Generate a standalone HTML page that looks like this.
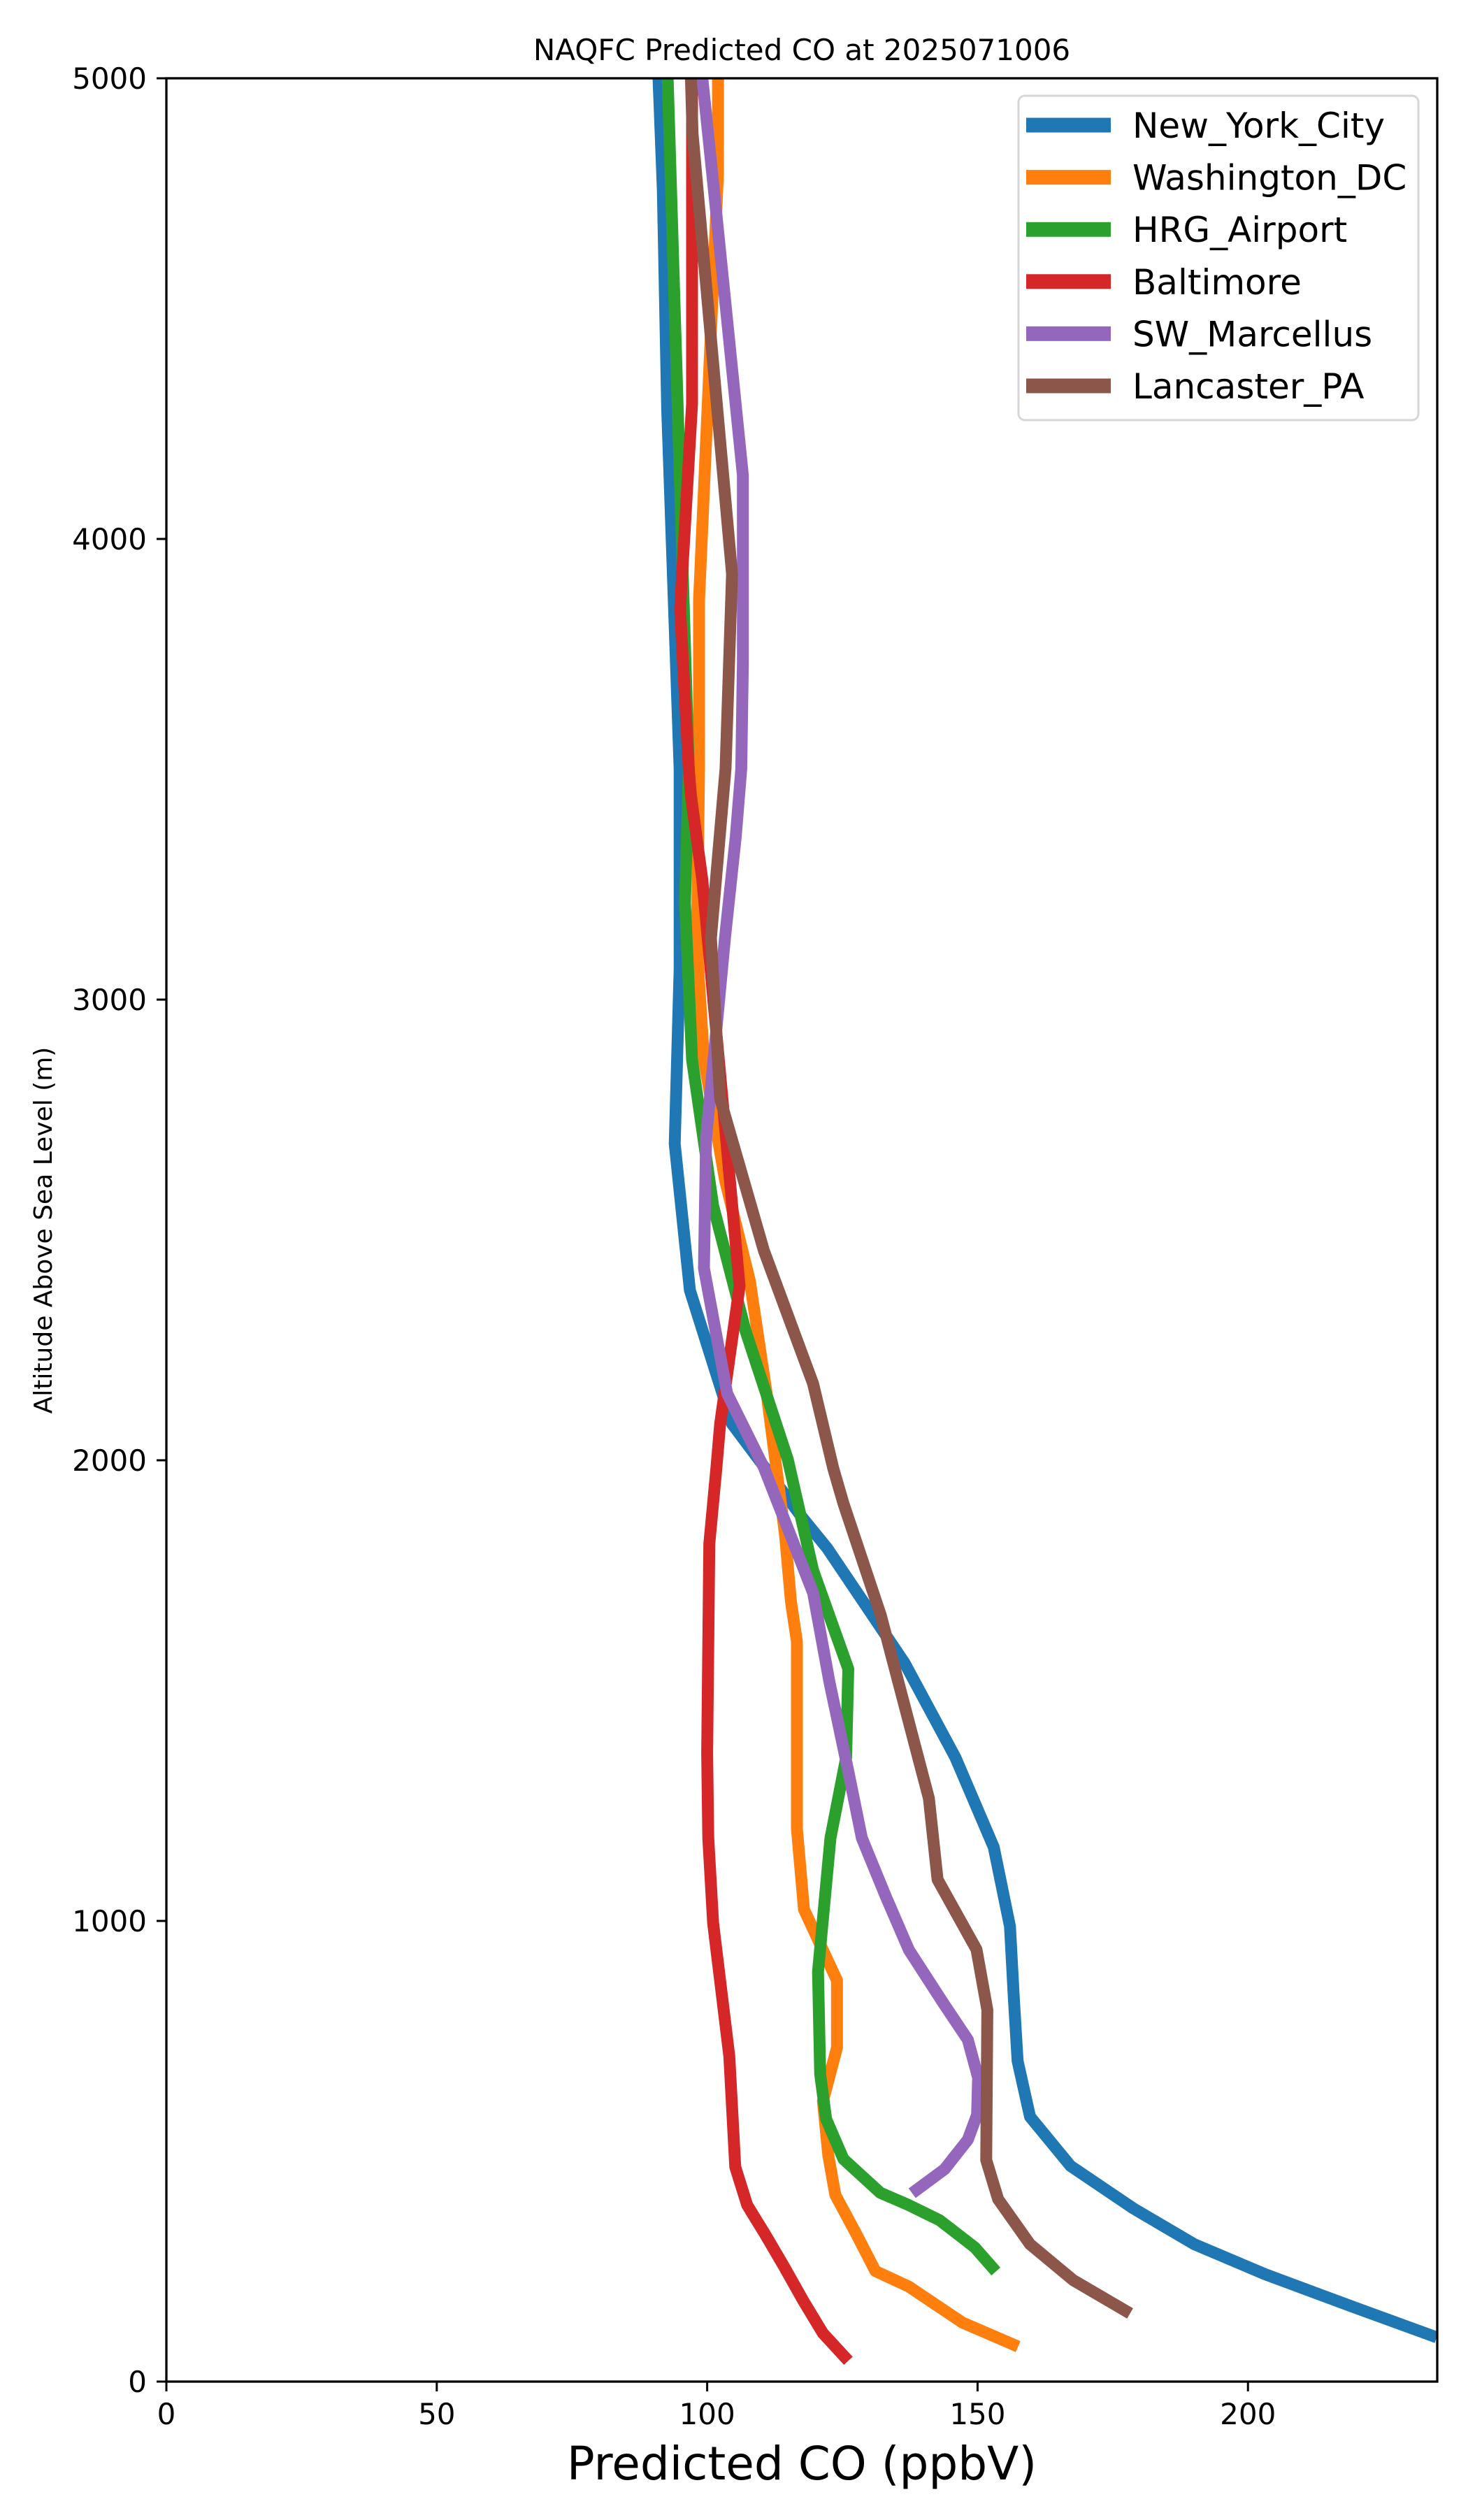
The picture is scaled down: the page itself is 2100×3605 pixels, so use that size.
<!DOCTYPE html>
<html><head><meta charset="utf-8"><style>
html,body{margin:0;padding:0;background:#fff;}
svg text{font-family:"DejaVu Sans","Liberation Sans",sans-serif;fill:#000;}
</style></head><body>
<svg id="chart" width="2100" height="3600" viewBox="0 0 2100 3600" xmlns="http://www.w3.org/2000/svg">
<defs><clipPath id="plotclip"><rect x="238" y="112" width="1818" height="3295"/></clipPath></defs>
<rect width="2100" height="3600" fill="#fff"/>
<text x="1147" y="86" font-size="42" text-anchor="middle">NAQFC Predicted CO at 2025071006</text>
<g id="xticks"></g>
<g id="yticks"></g>
<g id="series" clip-path="url(#plotclip)"></g>
<rect x="238" y="112" width="1818" height="3295" fill="none" stroke="#000" stroke-width="3.3"/>
<text x="1147" y="3547" font-size="66" text-anchor="middle">Predicted CO (ppbV)</text>
<text x="0" y="0" font-size="36" text-anchor="middle" transform="translate(74,1760) rotate(-90)">Altitude Above Sea Level (m)</text>
<g id="legend"></g>
</svg>
<script>
const seriesNames = ["New_York_City","Washington_DC","HRG_Airport","Baltimore","SW_Marcellus","Lancaster_PA"];
const seriesColors = ["#1f77b4","#ff7f0e","#2ca02c","#d62728","#9467bd","#8c564b"];
const xTicks = [0,50,100,150,200];
const yTicks = [0,1000,2000,3000,4000,5000];
const nycCO = [234.9,219.7,203.2,190.1,178.8,167.2,159.7,157.4,156.7,156.0,153.0,145.9,136.5,122.2,117.5,104.6,96.8,94.0,94.9,94.9,92.6,91.8,91.0];
const nycAlt = [96,161,233,298,376,468,575,696,833,988,1160,1355,1560,1809,1877,2079,2369,2687,3065,3501,4282,4757,5000];
const dcCO = [157.5,147.2,137.3,131.1,127.6,123.7,122.4,121.4,124.0,124.0,117.9,116.6,116.6,115.5,114.4,111.0,107.9,103.3,99.4,98.1,98.5,98.5,102.0,102.0];
const dcAlt = [76,128,206,240,320,405,491,609,725,871,1025,1200,1606,1693,1838,2145,2389,2609,2870,3114,3501,3867,4795,5000];
const hrgCO = [153.4,149.5,143.0,137.3,132.0,125.2,122.0,120.9,120.5,122.8,125.7,126.1,119.6,114.9,107.1,101.1,97.2,95.9,96.6,94.9,92.7];
const hrgAlt = [239,291,350,383,410,483,570,667,890,1180,1354,1547,1761,2002,2281,2553,2870,3210,3501,4147,5000];
const balCO = [126.1,121.4,117.8,114.2,110.7,107.4,105.2,104.1,101.1,100.2,100.0,100.4,101.7,102.4,106.0,99.1,97.0,96.6,95.0,97.2,97.2];
const balAlt = [45,105,175,250,320,383,466,706,996,1180,1364,1819,1983,2079,2378,3260,3443,3501,3847,4293,5000];
const swmCO = [137.9,143.9,148.2,149.9,150.1,148.2,143.7,137.3,133.0,128.6,126.1,122.6,119.6,110.5,103.7,99.4,99.8,103.3,105.3,106.3,106.6,106.6,101.5,99.1];
const swmAlt = [409,461,525,579,660,742,821,937,1054,1180,1325,1519,1712,1984,2145,2417,2699,3134,3355,3501,3731,4138,4729,5000];
const lanCO = [178.2,167.7,159.7,153.8,151.6,151.8,149.8,142.6,141.0,132.1,125.2,123.3,119.6,110.5,102.4,100.7,103.4,104.6,97.3,97.0];
const lanAlt = [148,220,298,396,481,807,938,1090,1266,1664,1906,1983,2166,2455,2785,3134,3501,3924,4880,5000];

const NS="http://www.w3.org/2000/svg";
const L=238,R=2056,T=112,B=3407,XMAX=235,YMAX=5000;
function xs(v){return L+(v/XMAX)*(R-L);}
function ys(v){return B-(v/YMAX)*(B-T);}
function mk(tag,attrs,parent){const e=document.createElementNS(NS,tag);for(const k in attrs)e.setAttribute(k,attrs[k]);parent.appendChild(e);return e;}

const xg=document.getElementById('xticks');
xTicks.forEach(t=>{
  const ln=mk('line',{x1:xs(t),x2:xs(t),y1:B,y2:B+14,stroke:'#000','stroke-width':3},xg);
  
  
  const tx=mk('text',{x:xs(t),y:B+61,'font-size':42,'text-anchor':'middle'},xg);
  tx.textContent=t;
  
  
});
const yg=document.getElementById('yticks');
yTicks.forEach(t=>{
  const ln=mk('line',{x1:L-14,x2:L,y1:ys(t),y2:ys(t),stroke:'#000','stroke-width':3},yg);
  
  
  const tx=mk('text',{x:L-28,y:ys(t)+15,'font-size':42,'text-anchor':'end'},yg);
  tx.textContent=t;
  
  
});

const seriesX=[nycCO,dcCO,hrgCO,balCO,swmCO,lanCO];
const seriesY=[nycAlt,dcAlt,hrgAlt,balAlt,swmAlt,lanAlt];
const sg=document.getElementById('series');
seriesNames.forEach((n,i)=>{
  const pts=seriesX[i].map((v,j)=>xs(v).toFixed(1)+','+ys(seriesY[i][j]).toFixed(1)).join(' ');
  const p=mk('polyline',{points:pts,fill:'none',stroke:seriesColors[i],'stroke-width':17,'stroke-linejoin':'round','stroke-linecap':'butt'},sg);
  
  
});

const lg=document.getElementById('legend');
const box=mk('rect',{x:1457,y:137,width:572,height:464,rx:9,fill:'#fff','fill-opacity':0.8,stroke:'#d6d6d6','stroke-width':3},lg);


seriesNames.forEach((n,i)=>{
  const cy=179+i*74.6;
  const ln=mk('line',{x1:1468,x2:1589,y1:cy,y2:cy,stroke:seriesColors[i],'stroke-width':21},lg);
  
  
  const tx=mk('text',{x:1620,y:cy+18,'font-size':50},lg);
  tx.textContent=n;
  
  
});
</script>
</body></html>
